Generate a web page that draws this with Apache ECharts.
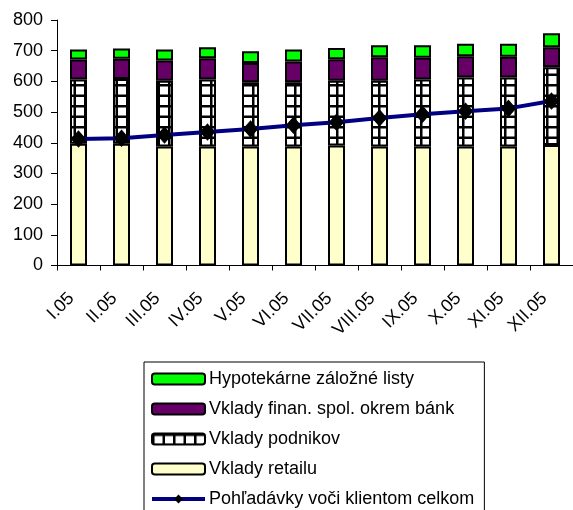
<!DOCTYPE html>
<html>
<head>
<meta charset="utf-8">
<script src="https://cdn.jsdelivr.net/npm/echarts@6/dist/echarts.min.js"></script>
<style>
  html, body { margin: 0; padding: 0; background: #fff; }
  #chart { width: 573px; height: 510px; }
</style>
</head>
<body>
<div id="chart"></div>
<script>
// Months of 2005
const months = ['I.05', 'II.05', 'III.05', 'IV.05', 'V.05', 'VI.05', 'VII.05', 'VIII.05', 'IX.05', 'X.05', 'XI.05', 'XII.05'];

// Stacked funding components
const retail      = [397, 397, 388, 388, 388, 388, 391, 388, 388, 388, 388, 393];
const podniky     = [209, 211, 214, 218, 209, 209, 211, 214, 218, 225, 225, 253];
const finanSpol   = [65, 66, 66, 69, 63, 68, 70, 77, 71, 69, 67, 65];
const hypoListy   = [33, 33, 36, 36, 38, 39, 37, 39, 41, 41, 43, 46];

// Total loans to clients
const pohladavky  = [412, 415, 425, 435, 445, 457, 467, 481, 493, 503, 512, 536];

const yTicks = { min: 0, max: 800, step: 100 };

const FONT = 'Arial, "Liberation Sans", sans-serif';

// White cells separated by black grid lines
function gridPattern() {
  const c = document.createElement('canvas');
  c.width = 21; c.height = 21;
  const g = c.getContext('2d');
  g.fillStyle = '#fff';
  g.fillRect(0, 0, 21, 21);
  g.fillStyle = '#000';
  g.fillRect(0, 0, 21, 2.5);
  g.fillRect(0, 10.5, 21, 2.5);
  g.fillRect(0, 0, 2.5, 21);
  g.fillRect(10.5, 0, 2.5, 21);
  return { image: c, repeat: 'repeat' };
}

const chart = echarts.init(document.getElementById('chart'), null, { renderer: 'canvas' });

const barBase = {
  type: 'bar',
  stack: 'spolu',
  barWidth: 17,
  animation: false
};

chart.setOption({
  animation: false,
  textStyle: { fontFamily: FONT, color: '#000' },
  grid: { left: 57, right: 0, top: 20, bottom: 244.5, containLabel: false },
  legend: {
    orient: 'vertical',
    left: 144,
    top: 362,
    height: 170,
    padding: [8, 10, 8, 6],
    borderColor: '#000',
    borderWidth: 1,
    itemWidth: 53,
    itemHeight: 11,
    itemGap: 12,
    textStyle: { fontFamily: FONT, fontSize: 18, color: '#000', lineHeight: 18, padding: [0, 0, 0, -1] },
    data: [
      'Hypotekárne záložné listy',
      'Vklady finan. spol. okrem bánk',
      'Vklady podnikov',
      'Vklady retailu',
      { name: 'Pohľadávky voči klientom celkom', lineStyle: { width: 4, color: '#000080' } }
    ]
  },
  xAxis: {
    type: 'category',
    data: months,
    boundaryGap: true,
    axisLine: { lineStyle: { color: '#000', width: 1 } },
    axisTick: { show: true, length: 5, lineStyle: { color: '#000' } },
    axisLabel: { rotate: 45, fontSize: 18, color: '#000', fontFamily: FONT, margin: 23, padding: [0, 10, 0, 0], interval: 0 },
    splitLine: { show: false }
  },
  yAxis: {
    type: 'value',
    min: yTicks.min,
    max: yTicks.max,
    interval: yTicks.step,
    axisLine: { show: true, lineStyle: { color: '#000', width: 1 } },
    axisTick: { show: true, length: 6, lineStyle: { color: '#000' } },
    axisLabel: { fontSize: 18, color: '#000', fontFamily: FONT, margin: 14 },
    splitLine: { show: false }
  },
  series: [
    Object.assign({}, barBase, {
      name: 'Vklady retailu',
      data: retail,
      itemStyle: { color: '#FFFFCC', borderColor: '#000', borderWidth: 2 }
    }),
    Object.assign({}, barBase, {
      name: 'Vklady podnikov',
      data: podniky,
      itemStyle: { color: gridPattern(), borderColor: '#000', borderWidth: 2 }
    }),
    Object.assign({}, barBase, {
      name: 'Vklady finan. spol. okrem bánk',
      data: finanSpol,
      itemStyle: { color: '#660066', borderColor: '#000', borderWidth: 2 }
    }),
    Object.assign({}, barBase, {
      name: 'Hypotekárne záložné listy',
      data: hypoListy,
      itemStyle: { color: '#00FF00', borderColor: '#000', borderWidth: 2 }
    }),
    {
      name: 'Pohľadávky voči klientom celkom',
      type: 'line',
      data: pohladavky,
      z: 5,
      symbol: 'diamond',
      symbolSize: [14, 16],
      lineStyle: { color: '#000080', width: 4 },
      itemStyle: { color: '#000', borderColor: '#000' },
      animation: false
    }
  ]
});
</script>
</body>
</html>
